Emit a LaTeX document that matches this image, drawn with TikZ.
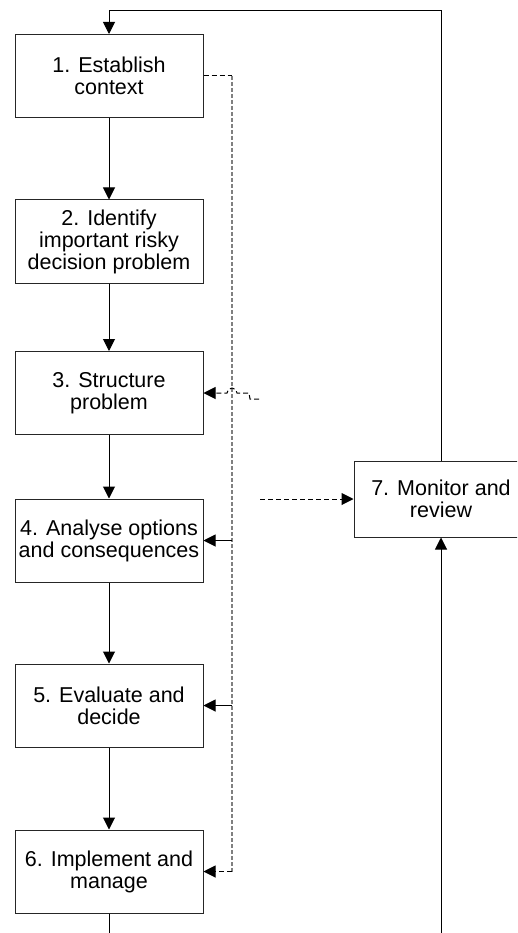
\documentclass[tikz,border=0pt]{standalone}
\usepackage{fontspec}
\setmainfont{Liberation Sans}
\usetikzlibrary{arrows.meta}

\begin{document}
\begin{tikzpicture}[x=1pt,y=1pt,node distance=166pt,>={Triangle[length=12pt,width=12pt]}]
    \tikzstyle{stepbox}=[rectangle,draw=black!85,line width=1pt,minimum width=188pt,minimum height=83pt,inner sep=0pt,align=center,font=\fontsize{21.5}{22}\selectfont]
    \tikzstyle{flow}=[line width=1pt]
    \tikzstyle{link}=[line width=1pt,dash pattern=on 5pt off 3pt]
    \tikzstyle{feed}=[draw=gray,line width=1.4pt,dash pattern=on 4pt off 2pt]
    \useasboundingbox (0,0) rectangle (517,-933);
    \clip (0,0) rectangle (517,-933);

    % steps
    \node[stepbox] (n1) at (109,-76) {1. Establish\\context};
    \node[stepbox, below of=n1, yshift=0.5pt] (n2) {2. Identify\\important risky\\decision problem};
    \node[stepbox, below of=n2, yshift=14.5pt] (n3) {3. Structure\\problem};
    \node[stepbox, below of=n3, yshift=18.5pt] (n4) {4. Analyse options\\and consequences};
    \node[stepbox, below of=n4, yshift=1pt] (n5) {5. Evaluate and\\decide};
    \node[stepbox, below of=n5] (n6) {6. Implement and\\manage};
    \node[stepbox, minimum width=174pt, minimum height=76pt] (n7) at (441,-499) {7. Monitor and\\review};

    \coordinate (loop7) at (441,-11);
    \coordinate (in7) at (441,-945);
    \coordinate (out6) at (109,-945);
    \coordinate (dtop) at (232,-76);
    \coordinate (dbot) at (232,-871.5);
    \coordinate (w3) at (259,-399);
    \coordinate (w7) at (260,-499);

    % edges
    \draw[flow,->] (n1) -- (n2);
    \draw[flow,->] (n2) -- (n3);
    \draw[flow,->] (n3) -- (n4);
    \draw[flow,->] (n4) -- (n5);
    \draw[flow,->] (n5) -- (n6);
    \draw[flow] (n6) -- (out6);
    \draw[flow,->] (in7) -- (n7);
    \draw[flow,->] (n7) -- (loop7) -| (n1);

    % feedback
    \draw[link] (n1.east) -- (dtop);
    \draw[feed] (dtop) -- (dbot);
    \draw[link,->] (dbot) -- (n6.east);
    \draw[flow,->] (n4.east -| dtop) -- (n4.east);
    \draw[flow,->] (n5.east -| dtop) -- (n5.east);
    \draw[link,->] (w3) -- ++(-9,0) -- ++(-1,6) -- ++(-12,0) arc[start angle=0,end angle=180,radius=5] -- (n3.east);
    \draw[link,->] (w7) -- (n7);

\end{tikzpicture}
\end{document}
